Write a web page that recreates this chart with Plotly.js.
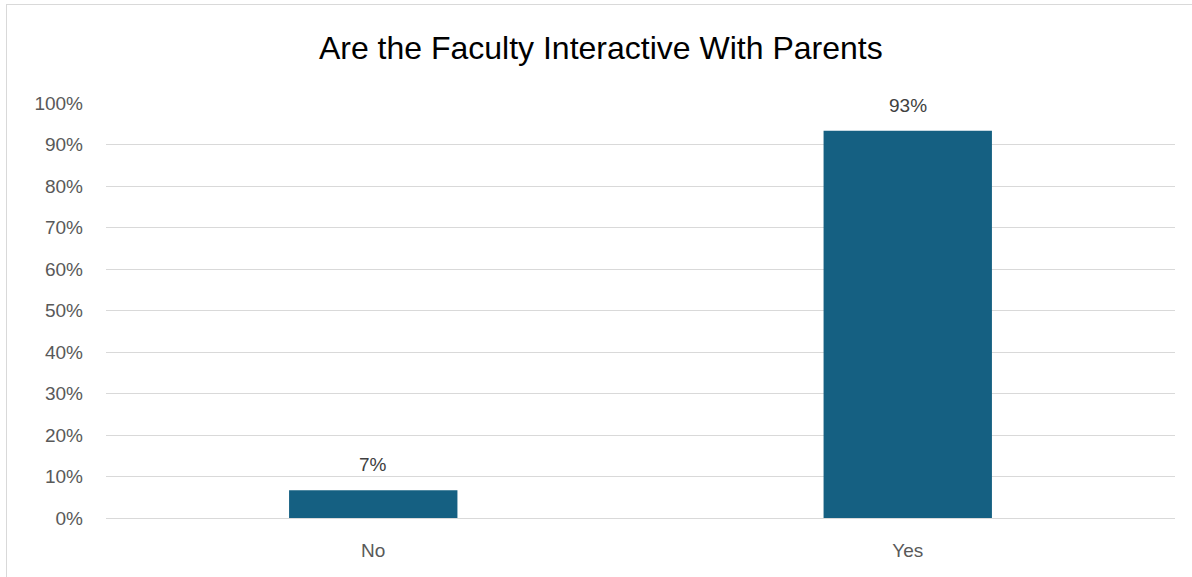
<!DOCTYPE html>
<html>
<head>
<meta charset="utf-8">
<script src="https://cdn.plot.ly/plotly-3.0.1.min.js"></script>
<style>
html,body{margin:0;padding:0;overflow:hidden;background:#fff;}
#frame{position:absolute;left:6px;top:4px;width:1200px;height:600px;border:1px solid #d9d9d9;box-sizing:border-box;}
#chart{position:absolute;left:0;top:0;width:1192px;height:577px;}
</style>
</head>
<body>
<div id="frame"></div>
<div id="chart"></div>
<script>
const categories = ["No", "Yes"];
const values = [0.067, 0.933];
const valueLabels = ["7%", "93%"];
const tickVals = [0, 0.1, 0.2, 0.3, 0.4, 0.5, 0.6, 0.7, 0.8, 0.9, 1.0];
const tickText = ["0%", "10%", "20%", "30%", "40%", "50%", "60%", "70%", "80%", "90%", "100%"];

const font = "Liberation Sans, Arial, sans-serif";

const trace = {
  type: "bar",
  x: categories,
  y: values,
  marker: {color: "#156082"},
  hoverinfo: "none"
};

const annotations = categories.map((c, i) => ({
  x: c, y: values[i], xref: "x", yref: "y",
  text: valueLabels[i], showarrow: false,
  yanchor: "bottom", yshift: 13,
  font: {family: font, size: 19, color: "#404040"}
}));

const layout = {
  width: 1192, height: 577,
  margin: {l: 106, r: 17, t: 103, b: 59},
  paper_bgcolor: "rgba(0,0,0,0)",
  plot_bgcolor: "rgba(0,0,0,0)",
  bargap: 0.685,
  showlegend: false,
  title: {
    text: "Are the Faculty Interactive With Parents",
    x: 0.504, xref: "container", xanchor: "center",
    y: 0.917, yref: "container", yanchor: "middle",
    font: {family: font, size: 32, color: "#000000"}
  },
  xaxis: {
    showgrid: false, zeroline: false, showline: false,
    ticks: "", ticklen: 0,
    ticklabelstandoff: 19,
    tickfont: {family: font, size: 19, color: "#595959"},
    automargin: false
  },
  yaxis: {
    range: [0, 1.0],
    tickvals: tickVals, ticktext: tickText,
    showgrid: true, gridcolor: "#d9d9d9", gridwidth: 1,
    zeroline: true, zerolinecolor: "#d9d9d9", zerolinewidth: 1,
    showline: false, ticks: "",
    ticklabelstandoff: 22,
    tickfont: {family: font, size: 19, color: "#595959"},
    automargin: false
  },
  annotations: annotations
};

Plotly.newPlot("chart", [trace], layout, {displayModeBar: false, staticPlot: true});
</script>
</body>
</html>
